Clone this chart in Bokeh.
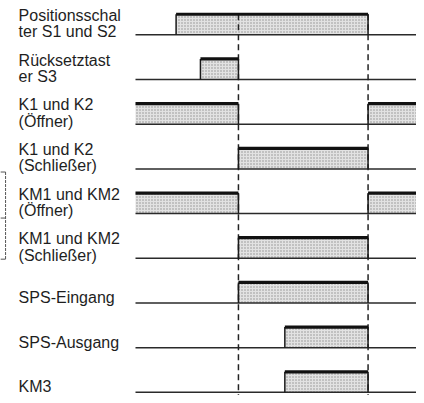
from bokeh.plotting import figure
from bokeh.models import Range1d
from bokeh.embed import file_html
from bokeh.resources import INLINE
from bokeh.core.properties import value

# ---- data (time in arbitrary units) ----
label_lines = [
    ["Positionsschal", "ter S1 und S2"],
    ["Rücksetztast", "er S3"],
    ["K1 und K2", "(Öffner)"],
    ["K1 und K2", "(Schließer)"],
    ["KM1 und KM2", "(Öffner)"],
    ["KM1 und KM2", "(Schließer)"],
    ["SPS-Eingang"],
    ["SPS-Ausgang"],
    ["KM3"],
]
t_start = 0.0
t_end = 10.0
t_s12_on = 1.40
t_s3_on = 2.24
t_switch = 3.55
t_sps_out = 5.15
t_off = 8.02

high_intervals = [
    [(t_s12_on, t_off)],
    [(t_s3_on, t_switch)],
    [(t_start, t_switch), (t_off, t_end)],
    [(t_switch, t_off)],
    [(t_start, t_switch), (t_off, t_end)],
    [(t_switch, t_off)],
    [(t_switch, t_off)],
    [(t_sps_out, t_off)],
    [(t_sps_out, t_off)],
]
marker_times = [t_switch, t_off]
bracket_rows = [3, 4, 5]

# ---- layout ----
AMP = 0.46          # height of a high level in row units
LABEL_X = -4.03
TXT_SHIFT = -0.135  # text anchor correction
Y_BOTTOM = 8.07
p = figure(width=416, height=395, output_backend="svg", toolbar_location=None,
           x_range=Range1d(-4.655, 9.690), y_range=Range1d(Y_BOTTOM, -0.7675),
           x_axis_type=None, y_axis_type=None, min_border=0)
p.grid.visible = False
p.outline_line_color = None
p.background_fill_color = "white"

qx0, qx1, qb, qt = [], [], [], []
top_x0, top_x1, top_y = [], [], []
ex, ey0, ey1 = [], [], []
for row, ivs in enumerate(high_intervals):
    for a, b in ivs:
        qx0.append(a); qx1.append(b); qb.append(row); qt.append(row - AMP)
        top_x0.append(a); top_x1.append(b); top_y.append(row - AMP)
        for e in (a, b):
            if t_start < e < t_end:
                ex.append(e); ey0.append(row); ey1.append(row - AMP)

p.quad(left=qx0, right=qx1, bottom=qb, top=qt, fill_color="#e2e2e2",
       line_color=None, hatch_pattern="dot", hatch_color="#8e8e8e",
       hatch_scale=3, hatch_weight=0.8)

rows = list(range(len(high_intervals)))
# baselines
p.segment(x0=[t_start] * len(rows), x1=[t_end] * len(rows), y0=rows, y1=rows,
          line_color="#2a2a2a", line_width=1.5)
# dashed markers
p.segment(x0=marker_times, x1=marker_times, y0=[-AMP] * 2, y1=[Y_BOTTOM] * 2,
          line_color="#222222", line_width=1.5, line_dash="6 4")
# edges
p.segment(x0=ex, x1=ex, y0=ey0, y1=ey1, line_color="#1a1a1a", line_width=1.5)
# tops
p.segment(x0=top_x0, x1=top_x1, y0=top_y, y1=top_y, line_color="#111111",
          line_width=3.2)

# labels
tx, ty, tt = [], [], []
for row, lines in enumerate(label_lines):
    if len(lines) == 2:
        tx += [LABEL_X, LABEL_X]
        ty += [row - 0.30 + TXT_SHIFT, row + 0.066 + TXT_SHIFT]
        tt += lines
    else:
        tx.append(LABEL_X); ty.append(row + 0.01 + TXT_SHIFT); tt.append(lines[0])
p.text(x=tx, y=ty, text=tt, text_font=value("Liberation Sans"),
       text_font_size="16px", text_color="#1e1e1e", text_baseline="alphabetic",
       text_align="left")

# bracket
bx0, bx1 = -4.66, -4.48
p.segment(x0=[bx1], x1=[bx1], y0=[bracket_rows[0] + 0.07], y1=[bracket_rows[2] + 0.02],
          line_color="#555555", line_width=1, line_dash="3 1")
p.segment(x0=[bx0] * 3, x1=[bx1] * 3,
          y0=[bracket_rows[0] + 0.07, bracket_rows[1] + 0.1, bracket_rows[2] + 0.02],
          y1=[bracket_rows[0] + 0.07, bracket_rows[1] + 0.1, bracket_rows[2] + 0.02],
          line_color="#555555", line_width=1)

open("out.html", "w").write(file_html(p, INLINE))
